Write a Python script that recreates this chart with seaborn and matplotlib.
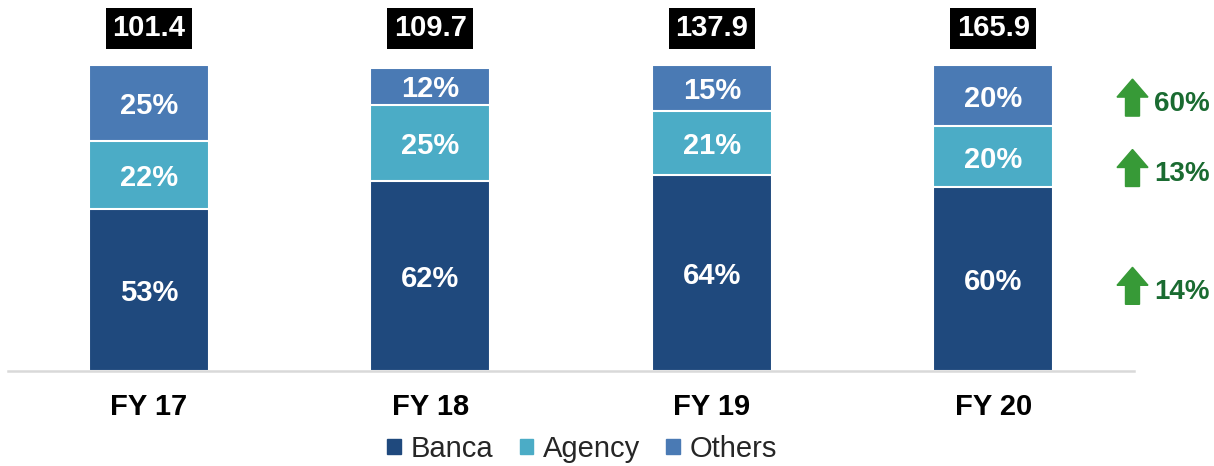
import numpy as np
import pandas as pd
import seaborn as sns
import matplotlib.pyplot as plt
from matplotlib.patches import FancyArrow, Patch

# data
years = ['FY 17', 'FY 18', 'FY 19', 'FY 20']
totals = [101.4, 109.7, 137.9, 165.9]
banca = [53, 62, 64, 60]
agency = [22, 25, 21, 20]
others = [25, 12, 15, 20]
growth = ['14%', '13%', '60%']   # Banca, Agency, Others (FY 20)

c_banca, c_agency, c_others = '#1f497d', '#4bacc6', '#4a7ab4'
green_arrow, green_text = '#379a37', '#1a6b31'

sns.set_theme(style='white')
plt.rcParams['font.family'] = ['Liberation Sans', 'DejaVu Sans']

df = pd.DataFrame({'year': years, 'Banca': banca, 'Agency': agency, 'Others': others})
df['b'] = df['Banca']
df['ba'] = df['Banca'] + df['Agency']
df['bao'] = df['ba'] + df['Others']

fig = plt.figure(figsize=(12.14, 4.66), dpi=100)
ax = fig.add_axes([0.0066, 0.2039, 0.9275, 0.6567])

# stacked bars: draw cumulative heights, tallest first
for col, c in [('bao', c_others), ('ba', c_agency), ('b', c_banca)]:
    sns.barplot(data=df, x='year', y=col, color=c, width=0.426, edgecolor='white',
                linewidth=1.5, saturation=1, ax=ax, errorbar=None)

ax.set_xlim(-0.5, 3.5)
ax.set_ylim(0, 100)

# segment labels
for i in range(len(years)):
    bottoms = [0, banca[i], banca[i] + agency[i]]
    for b, v in zip(bottoms, [banca[i], agency[i], others[i]]):
        ax.text(i, b + v / 2, f'{v}%', ha='center', va='center_baseline', color='white',
                fontsize=21, fontweight='bold')
    ax.text(i, 112, f'{totals[i]:.1f}', ha='center', va='center', color='white',
            fontsize=21, fontweight='bold',
            bbox=dict(boxstyle='square,pad=0.22', fc='black', ec='none'))

# growth arrows on the right
for g, yc in zip(growth, [28, 66.5, 89.5]):
    yb = ax.transData.transform((0, yc))[1] / fig.dpi
    arr = FancyArrow(11.325, yb - 0.19, 0, 0.37, width=0.14, head_width=0.31,
                     head_length=0.18, length_includes_head=True, color=green_arrow,
                     transform=fig.dpi_scale_trans, clip_on=False)
    fig.add_artist(arr)
    fig.text(11.54 / 12.14, (yb - 0.04) / 4.66, g, ha='left', va='center_baseline',
             color=green_text, fontsize=20, fontweight='bold')

ax.set_xlabel('')
ax.set_ylabel('')
ax.set_yticks([])
for s in ['top', 'right', 'left']:
    ax.spines[s].set_visible(False)
ax.spines['bottom'].set_color('#d9d9d9')
ax.spines['bottom'].set_linewidth(1.8)
ax.tick_params(axis='x', length=0, pad=16, labelsize=21)
for t in ax.get_xticklabels():
    t.set_fontweight('bold')
    t.set_color('black')

handles = [Patch(color=c_banca, label='Banca'), Patch(color=c_agency, label='Agency'),
           Patch(color=c_others, label='Others')]
ax.legend(handles=handles, loc='center', bbox_to_anchor=(0.51, -0.255), ncol=3,
          frameon=False, fontsize=21, handlelength=0.45, handleheight=0.45,
          handletextpad=0.35, columnspacing=0.9)

fig.savefig('out.png', dpi=100)
